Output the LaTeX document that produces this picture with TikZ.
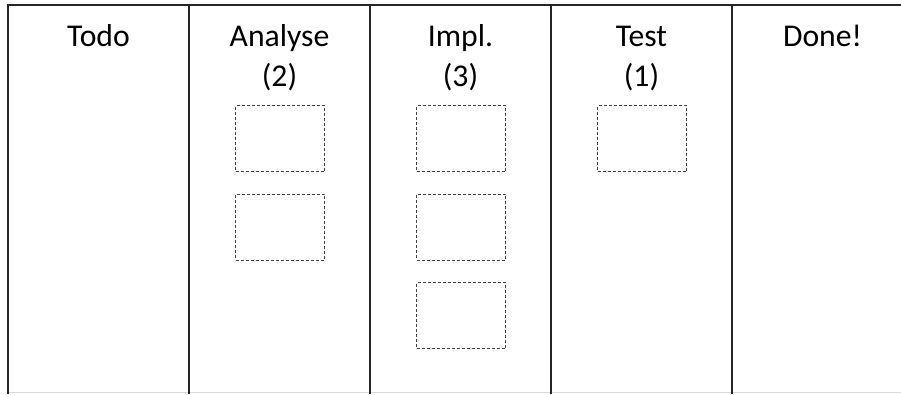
\documentclass[tikz,border=0pt]{standalone}
\usepackage{fontspec}
\setmainfont{Carlito}
\begin{document}
\begin{tikzpicture}[x=1pt,y=-1pt,
  boardline/.style={line width=1.8pt,black!85},
  baseline rule/.style={line width=1pt,black!15},
  head/.style={inner sep=0pt,anchor=base,font=\fontsize{31.7}{38}\selectfont},
  card/.style={draw=black!75,line width=0.9pt,dash pattern=on 3pt off 2pt,
    minimum width=89pt,minimum height=66pt,inner sep=0pt}]
  \useasboundingbox (0,0) rectangle (901,394);

  % board frame and column separators
  \draw[baseline rule] (9,392.5) -- (901,392.5);
  \draw[boardline] (901,5) -- (8,5) -- (8,394);
  \foreach \x in {189,370,551,732}
    \draw[boardline] (\x,5) -- (\x,394);

  % column headings
  \node[head] (hTodo)  at (98.5,46.3)  {Todo};
  \node[head] (hAna)   at (279.5,46.3) {Analyse};
  \node[head] (hAnaW)  at (279.5,86.7) {(2)};
  \node[head] (hImpl)  at (460.5,46.3) {Impl.};
  \node[head] (hImplW) at (460.5,86.7) {(3)};
  \node[head] (hTest)  at (641.5,46.3) {Test};
  \node[head] (hTestW) at (641.5,86.7) {(1)};
  \node[head] (hDone)  at (822.5,46.3) {Done!};

  % empty card slots (WIP limits)
  \node[card] (a1) at (280,138.5) {};
  \node[card] (a2) at (280,227)   {};
  \node[card] (i1) at (461,138.5) {};
  \node[card] (i2) at (461,227)   {};
  \node[card] (i3) at (461,315.5) {};
  \node[card] (t1) at (642,138.5) {};
\end{tikzpicture}
\end{document}
